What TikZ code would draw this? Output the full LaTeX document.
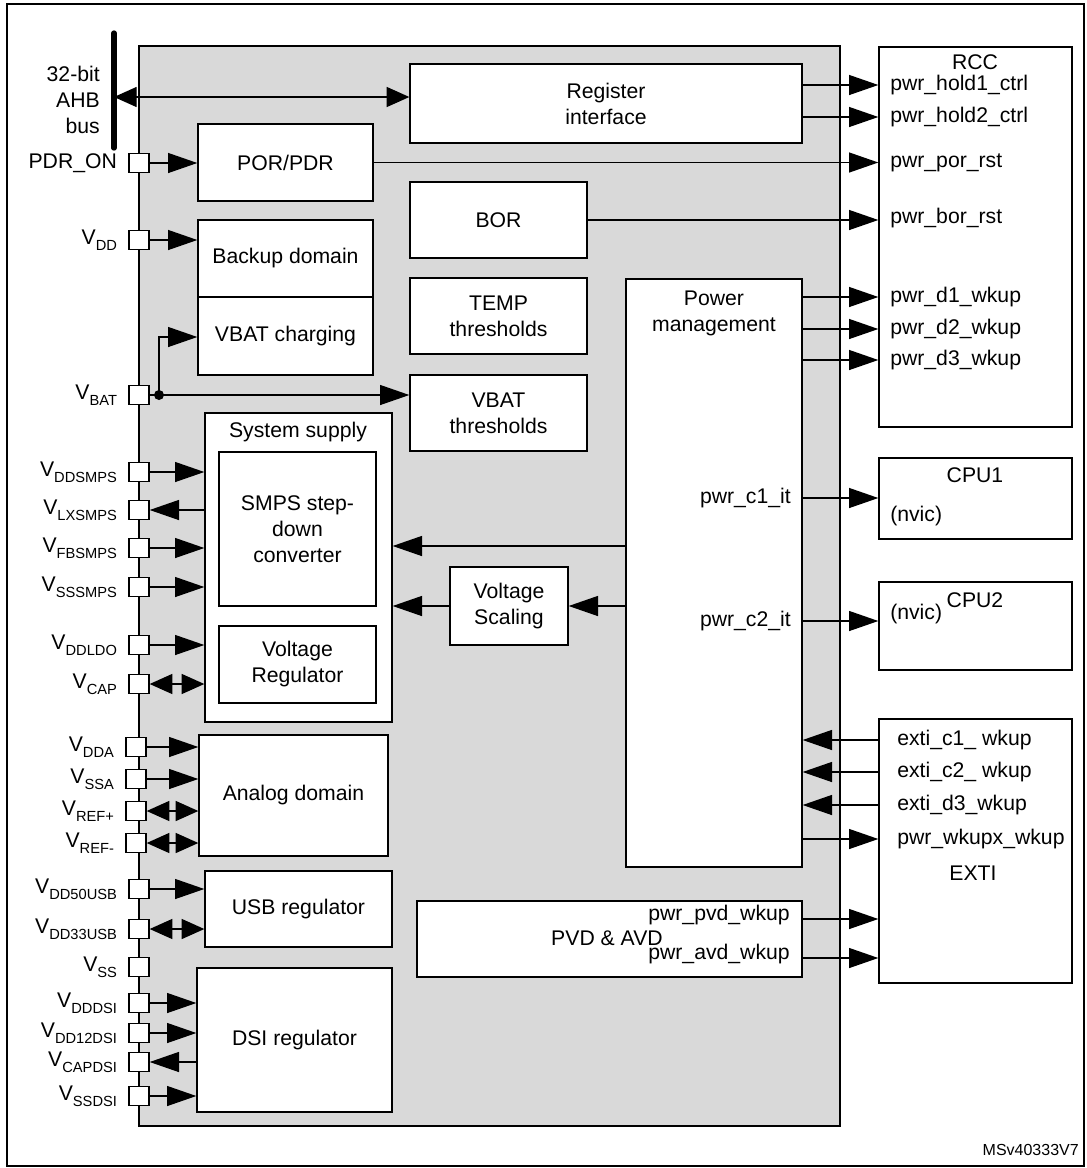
\documentclass[tikz,border=0pt]{standalone}
\usepackage{fontspec}
\setmainfont{Liberation Sans}
\usetikzlibrary{arrows.meta,fit,positioning}

\newcommand{\Vs}[1]{V\raisebox{-0.28em}{\fontsize{11}{11}\selectfont #1}}

\tikzset{
  blk/.style={draw, fill=white, line width=1pt, inner sep=0pt, align=center},
  pin/.style={draw, fill=white, line width=1pt, minimum width=15pt, minimum height=14pt, inner sep=0pt},
  pinlbl/.style={label={[label distance=5pt]left:#1}},
  sig/.style={line width=1pt, -{Triangle[length=22pt,width=15pt]}},
  bsig/.style={line width=1pt, {Triangle[length=17pt,width=15pt]}-{Triangle[length=17pt,width=15pt]}},
  rsig/.style={line width=1pt, {Triangle[length=22pt,width=15pt]}-},
  txt/.style={inner sep=0.75pt, align=left},
}

\begin{document}
\begin{tikzpicture}[x=0.75pt,y=0.75pt,yscale=-1,xscale=1,
  every node/.append style={font=\fontsize{15.9}{19.5}\selectfont}]
\useasboundingbox (0,0) rectangle (1087,1168);

% frame and power block
\draw[line width=1pt] (7,4) rectangle (1084,1166);
\draw[line width=1pt, fill=black!15] (139,46) rectangle (840,1126);

% bus
\draw[line width=4pt, line cap=round] (114,33) -- (114,148);
\coordinate (bus) at (114,97);
\node[txt, anchor=east, align=right] (buslbl) at (101,100) {32-bit\\AHB\\bus};

% internal blocks
\node[blk, fit={(410,64) (802,143)}] (reg) {};
\node[align=center] at (reg) {Register\\interface};
\node[blk, fit={(198,124) (373,201)}] (por) {};
\node at (por) {POR/PDR};
\node[blk, fit={(198,220) (373,297)}] (bkp) {};
\node at (bkp) {Backup domain};
\node[blk, fit={(198,297) (373,375)}] (vbchg) {};
\node at (vbchg) {VBAT charging};
\node[blk, fit={(410,182) (587,258)}] (bor) {};
\node at (bor) {BOR};
\node[blk, fit={(410,278) (587,354)}] (temp) {};
\node[align=center] at (temp) {TEMP\\thresholds};
\node[blk, fit={(410,375) (587,451)}] (vbth) {};
\node[align=center] at (vbth) {VBAT\\thresholds};
\node[blk, fit={(205,413) (392,722)}] (sys) {};
\node at (298,432) {System supply};
\node[blk, fit={(219,452) (376,606)}] (smps) {};
\node[align=center] at (smps) {SMPS step-\\down\\converter};
\node[blk, fit={(219,626) (376,703)}] (vreg) {};
\node[align=center] at (vreg) {Voltage\\Regulator};
\node[blk, fit={(450,567) (568,645)}] (vscl) {};
\node[align=center] at (vscl) {Voltage\\Scaling};
\node[blk, fit={(626,279) (802,867)}] (pm) {};
\node[align=center] at (714,313) {Power\\management};
\node[txt, anchor=east] (c1it) at (792,498) {pwr\_c1\_it};
\node[txt, anchor=east] (c2it) at (792,621) {pwr\_c2\_it};
\node[blk, fit={(199,735) (388,856)}] (ana) {};
\node at (ana) {Analog domain};
\node[blk, fit={(205,871) (392,947)}] (usb) {};
\node at (usb) {USB regulator};
\node[blk, fit={(197,968) (392,1112)}] (dsi) {};
\node at (dsi) {DSI regulator};
\node[blk, fit={(417,901) (802,977)}] (pvd) {};
\node[txt] at (607,938) {PVD \& AVD};
\node[txt, anchor=east] (pvdlbl) at (791,915) {pwr\_pvd\_wkup};
\node[txt, anchor=east] (avdlbl) at (791,954) {pwr\_avd\_wkup};

% external blocks
\node[blk, fit={(879,47) (1072,427)}] (rcc) {};
\node (rcclbl) at (975,62) {RCC};
\foreach \nm/\yy/\tx in {h1/85/pwr\_hold1\_ctrl, h2/117/pwr\_hold2\_ctrl, porr/163/pwr\_por\_rst,
    borr/218/pwr\_bor\_rst, d1/297/pwr\_d1\_wkup, d2/329/pwr\_d2\_wkup, d3/360/pwr\_d3\_wkup}
  \node[txt, anchor=west] (\nm) at (889,\yy) {\tx};
\node[blk, fit={(879,458) (1072,539)}] (cpu1) {};
\node at (975,475) {CPU1};
\node[txt, anchor=west] at (889,516) {(nvic)};
\node[blk, fit={(879,582) (1072,670)}] (cpu2) {};
\node at (975,600) {CPU2};
\node[txt, anchor=west] at (889,614) {(nvic)};
\node[blk, fit={(879,719) (1072,983)}] (exti) {};
\foreach \nm/\yy/\tx in {ec1/740/exti\_c1\_ wkup, ec2/772/exti\_c2\_ wkup, ed3/805/exti\_d3\_wkup,
    wkx/839/pwr\_wkupx\_wkup}
  \node[txt, anchor=west] (\nm) at (896,\yy) {\tx};
\node at (973,873) {EXTI};

% pins
\node[pin, pinlbl={PDR\_ON}] (pdron) at (139,163) {};
\node[pin, pinlbl={\Vs{DD}}] (vdd) at (139,240) {};
\node[pin, pinlbl={\Vs{BAT}}] (vbat) at (139,395) {};
\node[pin, pinlbl={\Vs{DDSMPS}}] (vddsmps) at (139,472) {};
\node[pin, pinlbl={\Vs{LXSMPS}}] (vlxsmps) at (139,510) {};
\node[pin, pinlbl={\Vs{FBSMPS}}] (vfbsmps) at (139,548) {};
\node[pin, pinlbl={\Vs{SSSMPS}}] (vsssmps) at (139,587) {};
\node[pin, pinlbl={\Vs{DDLDO}}] (vddldo) at (139,645) {};
\node[pin, pinlbl={\Vs{CAP}}] (vcap) at (139,684) {};
\node[pin, pinlbl={\Vs{DDA}}] (vdda) at (136,747) {};
\node[pin, pinlbl={\Vs{SSA}}] (vssa) at (136,779) {};
\node[pin, pinlbl={\Vs{REF+}}] (vrefp) at (136,811) {};
\node[pin, pinlbl={\Vs{REF-}}] (vrefm) at (136,843) {};
\node[pin, pinlbl={\Vs{DD50USB}}] (vdd50) at (139,889) {};
\node[pin, pinlbl={\Vs{DD33USB}}] (vdd33) at (139,929) {};
\node[pin, pinlbl={\Vs{SS}}] (vss) at (139,967) {};
\node[pin, pinlbl={\Vs{DDDSI}}] (vdddsi) at (139,1003) {};
\node[pin, pinlbl={\Vs{DD12DSI}}] (vdd12) at (139,1033) {};
\node[pin, pinlbl={\Vs{CAPDSI}}] (vcapdsi) at (139,1062) {};
\node[pin, pinlbl={\Vs{SSDSI}}] (vssdsi) at (139,1096) {};

% left side connections
\draw[bsig] (bus) -- (reg.west |- bus);
\draw[sig] (pdron) -- (por.west |- pdron);
\draw[sig] (vdd) -- (bkp.west |- vdd);
\coordinate (jn) at (159,395);
\draw[sig] (vbat) -- (vbth.west |- vbat);
\draw[sig] (jn) -- (159,337) -- (vbchg.west |- 0,337);
\fill (jn) circle (5);
\foreach \p in {vddsmps, vfbsmps, vsssmps, vddldo}
  \draw[sig] (\p) -- (sys.west |- \p);
\draw[rsig] (vlxsmps) -- (sys.west |- vlxsmps);
\draw[bsig] (vcap) -- (sys.west |- vcap);
\foreach \p in {vdda, vssa}
  \draw[sig] (\p) -- (ana.west |- \p);
\foreach \p in {vrefp, vrefm}
  \draw[bsig] (\p) -- (ana.west |- \p);
\draw[sig] (vdd50) -- (usb.west |- vdd50);
\draw[bsig] (vdd33) -- (usb.west |- vdd33);
\foreach \p in {vdddsi, vdd12, vssdsi}
  \draw[sig] (\p) -- (dsi.west |- \p);
\draw[rsig] (vcapdsi) -- (dsi.west |- vcapdsi);

% internal connections
\draw[sig] (pm.west |- 0,546) -- (sys.east |- 0,546);
\draw[sig] (pm.west |- 0,606) -- (vscl.east |- 0,606);
\draw[sig] (vscl.west |- 0,606) -- (sys.east |- 0,606);

% outputs
\draw[sig] (reg.east |- h1) -- (rcc.west |- h1);
\draw[sig] (reg.east |- h2) -- (rcc.west |- h2);
\draw[sig] (por.east) -- (rcc.west |- por.east);
\draw[sig] (bor.east) -- (rcc.west |- bor.east);
\foreach \s in {d1, d2, d3}
  \draw[sig] (pm.east |- \s) -- (rcc.west |- \s);
\draw[sig] (pm.east |- c1it) -- (cpu1.west |- c1it);
\draw[sig] (pm.east |- c2it) -- (cpu2.west |- c2it);
\foreach \s in {ec1, ec2, ed3}
  \draw[sig] (exti.west |- \s) -- (pm.east |- \s);
\draw[sig] (pm.east |- wkx) -- (exti.west |- wkx);
\draw[sig] (pvd.east |- 0,919) -- (exti.west |- 0,919);
\draw[sig] (pvd.east |- 0,958) -- (exti.west |- 0,958);

\node[txt, anchor=east, font=\fontsize{12}{14}\selectfont] (ref) at (1080,1150) {MSv40333V7};
\end{tikzpicture}
\end{document}
